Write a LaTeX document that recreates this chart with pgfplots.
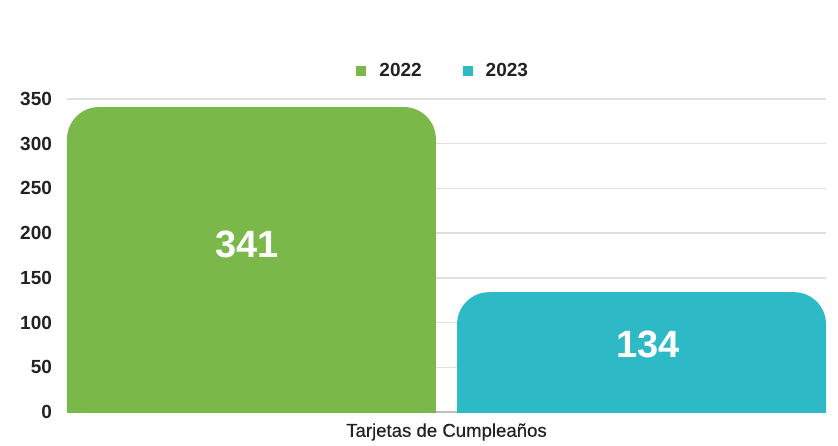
\documentclass[border=0pt]{standalone}
\usepackage{pgfplots}
\pgfplotsset{compat=1.18}
\usepackage{fontspec}
\setmainfont{Liberation Sans}
\definecolor{verde}{HTML}{7BB84A}
\definecolor{turquesa}{HTML}{2EB9C6}
\definecolor{texto}{HTML}{222222}
\definecolor{rejilla}{HTML}{E0E0E0}
\begin{document}
\begin{tikzpicture}
\begin{axis}[
  name=ax,
  scale only axis,
  width=379.5pt, height=156.5pt,
  xmin=0, xmax=2,
  ymin=0, ymax=350,
  ytick={0,50,...,350},
  xtick=\empty,
  axis x line*=bottom,
  axis y line*=left,
  x axis line style={draw=rejilla!85!black, line width=0.7pt, -},
  y axis line style={draw=none},
  ymajorgrids,
  major grid style={draw=rejilla, line width=0.7pt},
  major tick length=0pt,
  /pgf/number format/assume math mode=true,
  yticklabel style={font=\fontsize{9.5}{11}\selectfont\bfseries, text=texto, anchor=east, xshift=-4pt},
  xlabel={Tarjetas de Cumpleaños},
  xlabel style={font=\fontsize{9.3}{11}\selectfont\addfontfeature{FakeBold=0.4}, text=texto, at={(axis description cs:0.5,0)}, anchor=center, yshift=-10pt},
  legend columns=2,
  legend style={draw=none, fill=none, at={(0.497,1.089)}, anchor=center,
    font=\fontsize{9.5}{11}\selectfont\bfseries, text=texto,
    /tikz/every odd column/.append style={column sep=4.5pt},
    /tikz/every even column/.append style={column sep=18.5pt}},
  legend image code/.code={\fill[#1, sharp corners] (0pt,-2.5pt) rectangle (5pt,2.5pt);},
]
% 2022
\addplot[fill=verde, draw=none, rounded corners=16pt]
  coordinates {(0,-60) (0,341) (0.972,341) (0.972,-60)} -- cycle;
\addlegendentry{2022}
% 2023
\addplot[fill=turquesa, draw=none, rounded corners=16pt]
  coordinates {(1.028,-60) (1.028,134) (2,134) (2,-60)} -- cycle;
\addlegendentry{2023}
\node[text=white, font=\fontsize{19}{22}\selectfont\bfseries] at (axis cs:0.474,187) {341};
\node[text=white, font=\fontsize{19}{22}\selectfont\bfseries] at (axis cs:1.531,75) {134};
\end{axis}
\pgfresetboundingbox
\path[use as bounding box] (ax.south west) ++(-33.5pt,-16.5pt) rectangle ++(419pt,222.5pt);
\end{tikzpicture}
\end{document}
